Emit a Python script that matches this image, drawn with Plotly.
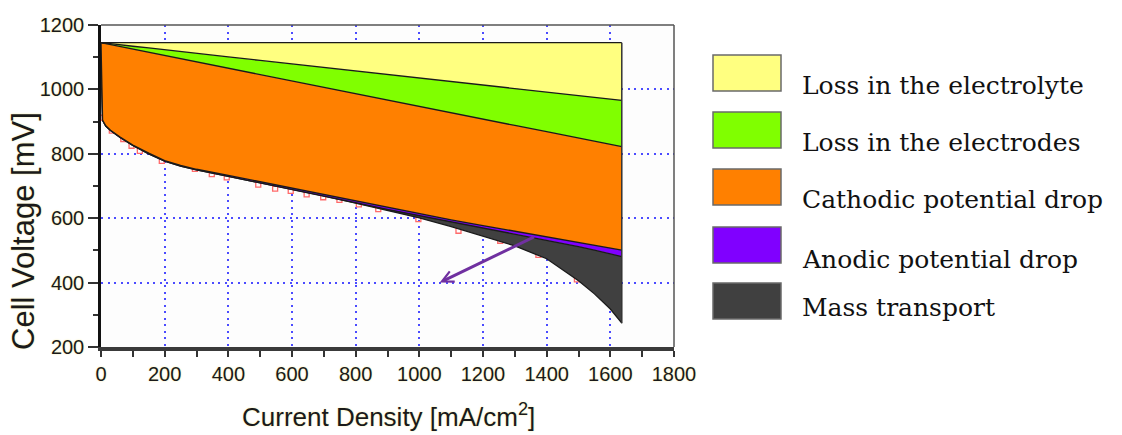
import plotly.graph_objects as go

# Current density [mA/cm2] at which the loss breakdown is evaluated
current = [0, 2, 5, 15, 30, 60, 100, 150, 200, 250, 300, 400, 500, 600,
           700, 800, 900, 1000, 1100, 1200, 1300, 1400, 1500, 1550, 1600, 1636]

# Open circuit voltage [mV]
ocv = 1145

# Voltage levels [mV] bounding each loss band (bottom to top)
v_cell = [1145, 1009, 904, 886, 872, 851, 826, 800, 777, 762, 750, 730, 710, 690,
          669, 647, 624, 601, 574, 543, 514, 474, 406, 365, 318, 274]
v_anodic = [1145, 1009, 904, 886, 872, 851, 826, 800, 777, 762, 750, 730, 710, 690,
            669, 648, 627, 608, 588, 569, 550, 531, 512, 501, 489, 481]
v_cathodic = [1145, 1010, 905, 887, 873, 852, 827, 802, 779, 764, 752, 733, 713, 693,
              673, 653, 633, 614, 595, 577, 560, 543, 526, 517, 508, 501]
v_electrodes = [1145, 1145, 1144, 1142, 1139, 1133, 1125, 1115, 1106, 1096, 1086, 1066,
                1046, 1027, 1007, 987, 967, 948, 928, 908, 888, 869, 849, 839, 829, 822]
v_electrolyte = [1145, 1145, 1144, 1143, 1142, 1138, 1134, 1129, 1123, 1118, 1112, 1101,
                 1090, 1079, 1068, 1057, 1047, 1036, 1025, 1014, 1003, 992, 981, 975, 970, 966]

# Measured polarisation points
meas_current = [7, 34, 70, 96, 122, 191, 295, 348, 395, 494, 547, 596, 646, 698,
                749, 810, 871, 997, 1123, 1254, 1374, 1495]
meas_voltage = [912, 872, 846, 825, 809, 778, 753, 737, 727, 704, 692, 685, 674, 665,
                657, 643, 628, 597, 561, 530, 486, 410]

# Loss bands: label, colour (top to bottom as listed in the key)
band_labels = ["Loss in the electrolyte", "Loss in the electrodes",
               "Cathodic potential drop", "Anodic potential drop", "Mass transport"]
band_colors = ["#FFFF80", "#80FF00", "#FF8000", "#8000FF", "#404040"]

# Pointer into the mass-transport region (tail -> head), data units
arrow_tail = (1365, 544)
arrow_head = (1064, 400)

x_ticks = list(range(0, 1801, 200))
y_ticks = list(range(200, 1201, 200))

fig = go.Figure()

# measured points first so the bands sit over their upper half
fig.add_trace(go.Scatter(
    x=meas_current, y=meas_voltage, mode="markers",
    marker=dict(symbol="square-open", size=5, color="#FF6A6A", line=dict(width=1.3)),
    hoverinfo="skip"))

edge = dict(color="#1a1a1a", width=1.3)
fig.add_trace(go.Scatter(x=current, y=v_cell, mode="lines", line=edge, hoverinfo="skip"))

levels = [v_anodic, v_cathodic, v_electrodes, v_electrolyte, [ocv] * len(current)]
fills = band_colors[::-1]
for lvl, col in zip(levels, fills):
    fig.add_trace(go.Scatter(
        x=current, y=lvl, mode="lines", line=edge,
        fill="tonexty", fillcolor=col, hoverinfo="skip"))

# right-hand closing edge of the bands
fig.add_trace(go.Scatter(
    x=[current[-1], current[-1]], y=[v_cell[-1], ocv], mode="lines",
    line=dict(color="#333333", width=1.5), hoverinfo="skip"))

tick_font = dict(family="Liberation Sans, Arial, sans-serif", size=20, color="#1a1a1a",
                 shadow="0px 0px 2px #f3eaa0")
grid_color = "#4b4bff"

fig.update_xaxes(
    range=[0, 1800], tickvals=x_ticks, ticks="outside", ticklen=6, tickwidth=1.5,
    tickcolor="#333", tickfont=tick_font,
    minor=dict(dtick=100, ticks="outside", ticklen=6, tickwidth=1.5, tickcolor="#333",
               showgrid=False),
    showgrid=True, gridcolor=grid_color, gridwidth=1.5, griddash="2px,4.5px",
    showline=True, linecolor="#3a3a3a", linewidth=3.5, zeroline=False)
fig.update_yaxes(
    range=[200, 1200], tickvals=y_ticks, ticks="outside", ticklen=10, tickwidth=1.5,
    tickcolor="#333", tickfont=tick_font,
    minor=dict(dtick=100, ticks="outside", ticklen=5, tickwidth=1.5, tickcolor="#333",
               showgrid=False),
    showgrid=True, gridcolor=grid_color, gridwidth=1.5, griddash="2px,4.5px",
    showline=True, linecolor="#111111", linewidth=2.5, zeroline=False)

# plot frame geometry in pixels
L, R, T, B = 101, 674, 25, 347
W, H = 1122, 435


def fx(px):
    return (px - L) / (R - L)


def fy(py):
    return (B - py) / (B - T)


shapes = [
    dict(type="line", xref="paper", yref="paper", x0=0, x1=1, y0=1, y1=1,
         line=dict(color="#555555", width=1.5), layer="above"),
    dict(type="line", xref="paper", yref="paper", x0=1, x1=1, y0=0, y1=1,
         line=dict(color="#555555", width=1.5), layer="above"),
]

annotations = []
box_tops = [55, 112, 169, 227, 283]
text_mid = [85, 142, 199, 259, 307]
for lab, col, top, mid in zip(band_labels, band_colors, box_tops, text_mid):
    shapes.append(dict(type="rect", xref="paper", yref="paper",
                       x0=fx(713), x1=fx(781), y0=fy(top + 36), y1=fy(top),
                       fillcolor=col, line=dict(color="#6a6a6a", width=1.5)))
    annotations.append(dict(text=lab, xref="paper", yref="paper", x=fx(800), y=fy(mid),
                            xanchor="left", yanchor="middle", showarrow=False,
                            font=dict(family="DejaVu Serif, serif", size=25, color="#111")))

title_font_x = dict(family="Liberation Sans, Arial, sans-serif", size=26, color="#1a1a1a",
                    shadow="0px 0px 2px #f3eaa0")
title_font_y = dict(family="Liberation Sans, Arial, sans-serif", size=31, color="#1a1a1a",
                    shadow="0px 0px 2px #f3eaa0")
annotations.append(dict(text="Current Density [mA/cm<sup>2</sup>]", xref="paper", yref="paper",
                        x=fx(388), y=fy(416), xanchor="center", yanchor="middle",
                        showarrow=False, font=title_font_x))
annotations.append(dict(text="Cell Voltage [mV]", xref="paper", yref="paper",
                        x=fx(23), y=fy(231), xanchor="center", yanchor="middle",
                        textangle=-90, showarrow=False, font=title_font_y))
annotations.append(dict(x=arrow_head[0], y=arrow_head[1], ax=arrow_tail[0], ay=arrow_tail[1],
                        xref="x", yref="y", axref="x", ayref="y", text="", showarrow=True,
                        arrowhead=5, arrowsize=0.75, arrowwidth=3, arrowcolor="#7030A0"))

fig.update_layout(
    width=W, height=H, autosize=False,
    margin=dict(l=L, r=W - R, t=T, b=H - B, pad=0),
    paper_bgcolor="white", plot_bgcolor="#fdfdfd",
    showlegend=False, shapes=shapes, annotations=annotations)

fig.write_html("out.html")
